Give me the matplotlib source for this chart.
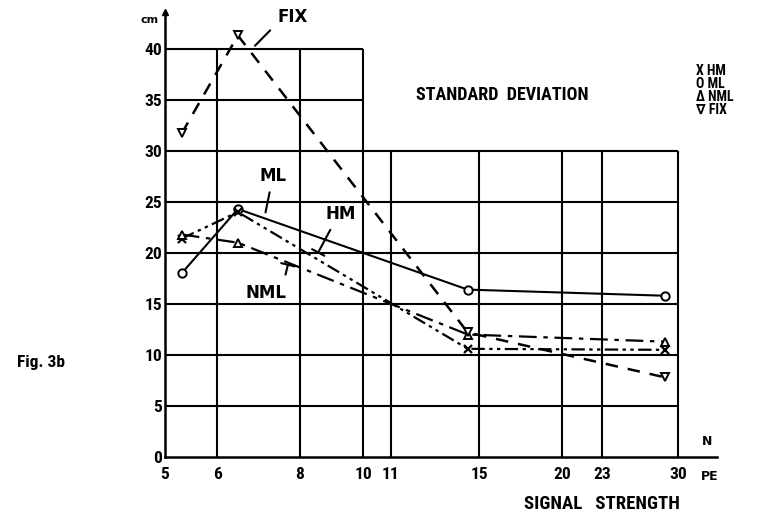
import matplotlib
matplotlib.use("Agg")
import numpy as np
from matplotlib import pyplot as plt
from matplotlib import font_manager

# signal strength (photoelectrons) and standard deviation in cm for each method
n_pe = [5.3, 6.45, 14.4, 28.7]
hm = [21.4, 24.0, 10.6, 10.5]
ml = [18.0, 24.3, 16.4, 15.8]
nml = [21.8, 21.0, 12.0, 11.3]
fix = [31.7, 41.3, 12.2, 7.8]

x_ticks = [5, 6, 8, 10, 11, 15, 20, 23, 30]
x_labels = ['5', '6', '8', '10', '11', '15', '20', '23', '30']
y_ticks = [0, 5, 10, 15, 20, 25, 30, 35, 40]

# a condensed face for the typed labels, if there is one
installed = {f.name for f in font_manager.fontManager.ttflist}
narrow = 'DejaVu Sans'
for name in ['Liberation Sans Narrow', 'DejaVu Sans Condensed', 'Roboto Condensed']:
    if name in installed:
        narrow = name
        break
squeeze = 1.0 if narrow != 'DejaVu Sans' else 0.82
narrow_fams = [narrow, 'DejaVu Sans']

fig = plt.figure(figsize=(7.62, 5.16), dpi=100)
ax = fig.add_axes([165 / 762, 59 / 516, 552 / 762, 445 / 516])
ax.set_xscale('log')
ax.set_xlim(5, 34.4)
ax.set_ylim(0, 43.6)

# grid: upper part only goes as far as x=10
lw_grid = 1.5
for y in [5, 10, 15, 20, 25, 30]:
    ax.hlines(y, 5, 30, color='black', lw=lw_grid)
for y in [35, 40]:
    ax.hlines(y, 5, 10, color='black', lw=lw_grid)
for x in [6, 8, 10]:
    ax.vlines(x, 0, 40, color='black', lw=lw_grid)
for x in [11, 15, 20, 23, 30]:
    ax.vlines(x, 0, 30, color='black', lw=lw_grid)

for side in ['top', 'right']:
    ax.spines[side].set_visible(False)
for side in ['left', 'bottom']:
    ax.spines[side].set_linewidth(1.8)

ax.plot([5], [43.6], marker='^', color='black', ms=5, clip_on=False)

ax.set_xticks(x_ticks)
ax.set_xticklabels(x_labels)
ax.xaxis.set_minor_locator(matplotlib.ticker.NullLocator())
ax.set_yticks(y_ticks)
ax.set_yticklabels([str(v) for v in y_ticks])
ax.tick_params(length=0, labelsize=12.5 * squeeze)
ax.tick_params(axis='x', pad=7)
ax.tick_params(axis='y', pad=2)
for lab in ax.get_xticklabels() + ax.get_yticklabels():
    lab.set_family(narrow)
    lab.set_fontweight('heavy')

# curves
ax.plot(n_pe, ml, color='black', lw=1.5, ls='-', marker='o', ms=6,
        mfc='white', mew=1.4, clip_on=False)
ax.plot(n_pe, hm, color='black', lw=1.6, ls=(0, (6, 2, 1.5, 2, 1.5, 2)),
        marker='x', ms=6, mew=1.6, clip_on=False)
ax.plot(n_pe, nml, color='black', lw=1.6, ls=(0, (8, 3, 2, 3)),
        marker='^', ms=6, mfc='white', mew=1.4, clip_on=False)
ax.plot(n_pe, fix, color='black', lw=1.8, ls=(0, (5, 4)),
        marker='v', ms=6, mfc='white', mew=1.4, clip_on=False)

# curve labels with pointers
lab_kw = dict(fontsize=12, fontweight='bold', ha='center', va='center')
ax.text(7.8, 43.1, 'FIX', **lab_kw)
ax.annotate('', xy=(6.8, 40.1), xytext=(7.27, 42.0),
            arrowprops=dict(arrowstyle='-', lw=1.5, color='black'))
ax.text(7.29, 27.5, 'ML', **lab_kw)
ax.annotate('', xy=(7.09, 23.7), xytext=(7.22, 26.2),
            arrowprops=dict(arrowstyle='-', lw=1.5, color='black'))
ax.text(9.25, 23.8, 'HM', **lab_kw)
ax.annotate('', xy=(8.5, 19.8), xytext=(8.95, 22.5),
            arrowprops=dict(arrowstyle='-[, widthB=0.5, lengthB=0', lw=1.5, color='black'))
ax.text(7.12, 16.1, 'NML', **lab_kw)
ax.annotate('', xy=(7.7, 19.1), xytext=(7.6, 17.6),
            arrowprops=dict(arrowstyle='-[, widthB=0.5, lengthB=0', lw=1.5, color='black'))

ax.text(4.74, 42.8, 'cm', fontsize=8, fontweight='bold', ha='center', va='center')
ax.text(33.2, 1.5, 'N', fontsize=9, fontweight='bold', ha='center', va='center', clip_on=False)
ax.text(33.5, -1.9, 'PE', fontsize=9, fontweight='bold', ha='center', va='center', clip_on=False)
ax.text(23.0, -4.6, 'SIGNAL   STRENGTH', family=narrow, fontsize=13.5 * squeeze,
        fontweight='bold', ha='center', va='center', clip_on=False)

fig.text(502 / 762, 1 - 95 / 516, 'STANDARD  DEVIATION', family=narrow,
         fontsize=13 * squeeze, fontweight='bold', ha='center', va='center')

# key of the marker symbols
key = ['X HM', 'O ML', 'Δ NML', '∇ FIX']
for i, line in enumerate(key):
    fig.text(696 / 762, 1 - (71 + 13 * i) / 516, line, family=narrow_fams,
             fontsize=10 * squeeze, fontweight='bold', ha='left', va='center')

fig.text(41 / 762, 1 - 362 / 516, 'Fig. 3b', family=narrow, fontsize=12.5,
         fontweight='bold', ha='center', va='center')

fig.savefig('out.png', dpi=100)
